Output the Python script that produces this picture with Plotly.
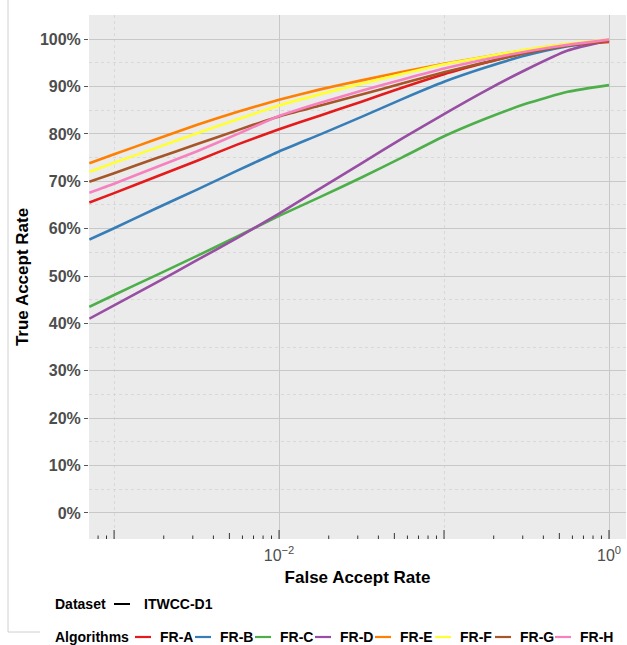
import plotly.graph_objects as go

# ROC-style verification curves: true accept rate vs false accept rate
far = [0.000708, 0.001, 0.00178, 0.00316, 0.00562, 0.01, 0.0178, 0.0316,
       0.0562, 0.1, 0.178, 0.316, 0.562, 1.0]

fr_a = [65.5, 67.5, 70.9, 74.3, 77.8, 81.0, 83.9, 86.8, 89.8, 92.6, 95.0, 97.2, 98.7, 99.4]
fr_b = [57.7, 60.1, 64.2, 68.2, 72.3, 76.3, 79.9, 83.6, 87.4, 91.0, 94.0, 96.6, 98.5, 99.8]
fr_c = [43.5, 46.0, 50.1, 54.2, 58.4, 62.7, 66.7, 70.8, 75.1, 79.5, 83.2, 86.4, 88.9, 90.3]
fr_d = [41.0, 43.8, 48.5, 53.3, 58.1, 63.2, 68.5, 73.8, 79.1, 84.2, 89.1, 93.6, 97.6, 99.8]
fr_e = [73.8, 75.7, 78.8, 81.9, 84.7, 87.2, 89.4, 91.3, 93.1, 94.8, 96.3, 97.7, 98.9, 99.6]
fr_f = [72.0, 73.9, 77.0, 80.1, 83.1, 86.0, 88.4, 90.6, 92.7, 94.7, 96.3, 97.8, 99.0, 99.9]
fr_g = [69.9, 71.7, 74.8, 77.8, 80.8, 83.7, 86.0, 88.3, 90.7, 93.0, 95.1, 97.1, 98.6, 99.6]
fr_h = [67.6, 69.5, 72.9, 76.3, 80.0, 83.8, 86.6, 89.1, 91.5, 93.8, 95.7, 97.4, 98.8, 99.9]

algorithms = ["FR-A", "FR-B", "FR-C", "FR-D", "FR-E", "FR-F", "FR-G", "FR-H"]
series = [fr_a, fr_b, fr_c, fr_d, fr_e, fr_f, fr_g, fr_h]
colors = ["#E41A1C", "#377EB8", "#4DAF4A", "#984EA3",
          "#FF7F00", "#FFFF33", "#A65628", "#F781BF"]

dataset_name = "ITWCC-D1"
y_ticks = list(range(0, 101, 10))
y_labels = [f"{v}%" for v in y_ticks]
x_ticks = [0.01, 1]
x_labels = ["10<sup>\u22122</sup>", "10<sup>0</sup>"]

FONT = "Liberation Sans, Arial, sans-serif"
W, H = 627, 645
ML, MR, MT, MB = 89, 1, 15, 106
PW, PH = W - ML - MR, H - MT - MB
Y_RANGE = [-5.5, 105.1]
X_RANGE = [-3.152, 0.103]


def px_x(px):
    return (px - ML) / PW


def px_y(py):
    return (H - MB - py) / PH


fig = go.Figure()

for name, vals, col in zip(algorithms, series, colors):
    fig.add_trace(go.Scatter(
        x=far, y=vals, mode="lines", name=name,
        line=dict(color=col, width=2.6, shape="spline", smoothing=0.5),
        hoverinfo="x+y+name",
    ))

# log tick marks along the bottom edge of the panel
units_per_px = (Y_RANGE[1] - Y_RANGE[0]) / PH
rug_x, rug_y = [], []
for exp in range(-4, 1):
    for mult in range(1, 10):
        v = mult * 10 ** exp
        if v < 10 ** X_RANGE[0] or v > 10 ** X_RANGE[1]:
            continue
        length = 9 if mult == 1 else (6 if mult == 5 else 3.5)
        rug_x += [v, v, None]
        rug_y += [Y_RANGE[0], Y_RANGE[0] + length * units_per_px, None]
fig.add_trace(go.Scatter(x=rug_x, y=rug_y, mode="lines",
                         line=dict(color="#333333", width=1),
                         hoverinfo="skip", showlegend=False))

fig.update_layout(
    width=W, height=H,
    margin=dict(l=ML, r=MR, t=MT, b=MB),
    paper_bgcolor="white", plot_bgcolor="#EBEBEB",
    showlegend=False,
    font=dict(family=FONT),
)

fig.update_xaxes(
    type="log", range=X_RANGE,
    tickmode="array", tickvals=x_ticks, ticktext=x_labels,
    tickfont=dict(family=FONT, size=16, color="#4D4D4D"),
    ticks="", showline=False, zeroline=False, ticklabelstandoff=5,
    showgrid=True, gridcolor="#C8C8C8", gridwidth=1,
    minor=dict(tickvals=[0.001, 0.1], showgrid=True, gridcolor="#D8D8D8",
               griddash="dot", gridwidth=1, ticks=""),
    title=dict(text="<b>False Accept Rate</b>",
               font=dict(family=FONT, size=17, color="black"), standoff=8),
)

fig.update_yaxes(
    range=Y_RANGE,
    tickmode="array", tickvals=y_ticks, ticktext=y_labels,
    tickfont=dict(family=FONT, size=16, color="#4D4D4D", weight="bold"),
    ticks="outside", ticklen=4, tickcolor="#555555", tickwidth=1,
    showline=False, zeroline=False,
    showgrid=True, gridcolor="#C8C8C8", gridwidth=1,
    minor=dict(tickvals=list(range(5, 100, 10)), showgrid=True,
               gridcolor="#D8D8D8", griddash="dot", gridwidth=1, ticks=""),
    title=dict(text="<b>True Accept Rate</b>",
               font=dict(family=FONT, size=17, color="black"), standoff=6),
)

# two-row key below the panel
LEG_FONT = dict(family=FONT, size=14, color="black", weight="bold")
shapes, annotations = [], []

row1_y, row2_y = 604, 637
annotations.append(dict(x=px_x(53), y=px_y(row1_y), xref="paper", yref="paper",
                        text="Dataset", showarrow=False, xanchor="left",
                        yanchor="middle", font=LEG_FONT))
shapes.append(dict(type="line", xref="paper", yref="paper",
                   x0=px_x(114), x1=px_x(130), y0=px_y(row1_y), y1=px_y(row1_y),
                   line=dict(color="black", width=2)))
annotations.append(dict(x=px_x(142), y=px_y(row1_y), xref="paper", yref="paper",
                        text=dataset_name, showarrow=False, xanchor="left",
                        yanchor="middle", font=LEG_FONT))

annotations.append(dict(x=px_x(53), y=px_y(row2_y), xref="paper", yref="paper",
                        text="Algorithms", showarrow=False, xanchor="left",
                        yanchor="middle", font=LEG_FONT))
for i, (name, col) in enumerate(zip(algorithms, colors)):
    tx = 158 + i * 60
    shapes.append(dict(type="line", xref="paper", yref="paper",
                       x0=px_x(tx - 23), x1=px_x(tx - 7),
                       y0=px_y(row2_y), y1=px_y(row2_y),
                       line=dict(color=col, width=2.2)))
    annotations.append(dict(x=px_x(tx), y=px_y(row2_y), xref="paper", yref="paper",
                            text=name, showarrow=False, xanchor="left",
                            yanchor="middle", font=LEG_FONT))

# thin frame on the left side of the figure
shapes.append(dict(type="line", xref="paper", yref="paper",
                   x0=px_x(8), x1=px_x(8), y0=px_y(0), y1=px_y(632),
                   line=dict(color="#D0D0D0", width=1)))
shapes.append(dict(type="line", xref="paper", yref="paper",
                   x0=px_x(8), x1=px_x(40), y0=px_y(632), y1=px_y(632),
                   line=dict(color="#D0D0D0", width=1)))

fig.update_layout(shapes=shapes, annotations=annotations)

fig.write_html("out.html")
